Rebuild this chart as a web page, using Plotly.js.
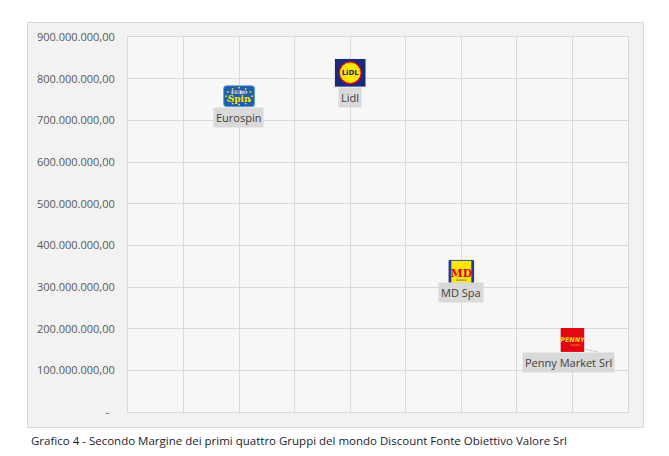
<!DOCTYPE html>
<html>
<head>
<meta charset="utf-8">
<script src="https://cdn.plot.ly/plotly-3.0.1.min.js"></script>
<style>html,body{margin:0;padding:0;background:#fff;}#chart{width:669px;height:456px;}</style>
</head>
<body>
<div id="chart"></div>
<script>
// ---- data ----
const companies = ["Eurospin", "Lidl", "MD Spa", "Penny Market Srl"];
const xPositions = [2, 4, 6, 8];
const secondMargin = [758000000, 814000000, 334000000, 173000000];
const yTickValues = [0, 100000000, 200000000, 300000000, 400000000, 500000000, 600000000, 700000000, 800000000, 900000000];
const yTickLabels = ["-\u00a0\u00a0", "100.000.000,00", "200.000.000,00", "300.000.000,00", "400.000.000,00", "500.000.000,00", "600.000.000,00", "700.000.000,00", "800.000.000,00", "900.000.000,00"];
const caption = "Grafico 4 - Secondo Margine dei primi quattro Gruppi del mondo Discount Fonte Obiettivo Valore Srl";

// ---- logo artwork (inline SVG) ----
function uri(svg){ return "data:image/svg+xml;charset=utf-8," + encodeURIComponent(svg); }
let stars = "";
for (let i = 0; i < 12; i++) {
  const a = i / 12 * Math.PI * 2;
  stars += `<circle cx="${16 + 13 * Math.cos(a)}" cy="${11 + 8.5 * Math.sin(a)}" r="0.9" fill="#ffe100"/>`;
}
const logos = {
  "Eurospin": uri(`<svg xmlns="http://www.w3.org/2000/svg" width="32" height="22" viewBox="0 0 32 22"><rect x="0.5" y="0.5" width="31" height="21" rx="3" fill="#1c5fae" stroke="#5aa0e0"/>${stars}<text x="16" y="8.5" font-family="DejaVu Serif" font-size="4.8" font-weight="bold" fill="#ffffff" text-anchor="middle">EURO</text><text x="16" y="17" font-family="DejaVu Serif" font-size="9" font-weight="bold" fill="#ffe100" text-anchor="middle">Spin</text></svg>`),
  "Lidl": uri(`<svg xmlns="http://www.w3.org/2000/svg" width="31" height="28" viewBox="0 0 31 28"><rect width="31" height="28" fill="#1b2b7c"/><circle cx="15.5" cy="14" r="11.5" fill="#e2001a"/><circle cx="15.5" cy="14" r="10.3" fill="#ffe500"/><text x="15.5" y="16.6" font-family="DejaVu Sans" font-size="7" font-weight="bold" fill="#1b2b7c" text-anchor="middle">LiDL</text></svg>`),
  "MD Spa": uri(`<svg xmlns="http://www.w3.org/2000/svg" width="26" height="26" viewBox="0 0 26 26"><rect width="26" height="26" rx="2" fill="#1d3f9a"/><rect x="3" y="1" width="20" height="24" fill="#ffe600"/><text x="13" y="17" font-family="DejaVu Serif" font-size="11" font-weight="bold" fill="#e2001a" text-anchor="middle">MD</text><rect x="8" y="19.5" width="10" height="1.6" fill="#999"/></svg>`),
  "Penny Market Srl": uri(`<svg xmlns="http://www.w3.org/2000/svg" width="24" height="24" viewBox="0 0 24 24"><rect width="24" height="24" fill="#e30613"/><text x="12" y="14" font-family="DejaVu Sans" font-size="6.4" font-weight="bold" font-style="italic" fill="#ffd500" text-anchor="middle">PENNY</text><text x="15" y="18" font-family="DejaVu Sans" font-size="2.6" font-style="italic" fill="#ffd500" text-anchor="middle">market</text></svg>`)
};

// ---- layout constants (pixels) ----
const W = 669, H = 456;
const M = {l: 128, r: 41, t: 37, b: 44};
const plotW = W - M.l - M.r, plotH = H - M.t - M.b;
const xRange = [0, 9], yRange = [0, 900000000];
const pxX = plotW / (xRange[1] - xRange[0]);
const pxY = plotH / (yRange[1] - yRange[0]);
const logoPx = {"Eurospin": [32, 22], "Lidl": [31, 28], "MD Spa": [26, 26], "Penny Market Srl": [24, 24]};
const labelShift = {"Eurospin": 11, "Lidl": 14, "MD Spa": 9, "Penny Market Srl": 12};

const images = companies.map((c, i) => ({
  source: logos[c], xref: "x", yref: "y",
  x: xPositions[i], y: secondMargin[i],
  sizex: logoPx[c][0] / pxX, sizey: logoPx[c][1] / pxY,
  xanchor: "center", yanchor: "middle", sizing: "stretch", layer: "above"
}));

const labelAnnotations = companies.map((c, i) => ({
  xref: "x", yref: "y", x: xPositions[i], y: secondMargin[i],
  text: c, showarrow: false, yanchor: "top", xanchor: "center",
  yshift: -labelShift[c], xshift: c === "Penny Market Srl" ? -4 : (c === "Eurospin" ? -1 : 0),
  bgcolor: "#d9d9d9", borderpad: 2,
  font: {family: "Open Sans, sans-serif", size: 11, color: "#404040"}
}));

const fx = px => (px - M.l) / plotW;
const fy = py => (H - M.b - py) / plotH;

const layout = {
  width: W, height: H,
  margin: M,
  paper_bgcolor: "#ffffff",
  plot_bgcolor: "rgba(0,0,0,0)",
  showlegend: false,
  xaxis: {range: xRange, dtick: 1, tick0: 0, showticklabels: false, ticks: "",
          showgrid: true, gridcolor: "#d9d9d9", gridwidth: 1, zeroline: false,
          showline: true, linecolor: "#d9d9d9", mirror: true, fixedrange: true},
  yaxis: {range: yRange, tickvals: yTickValues, ticktext: yTickLabels, ticks: "",
          ticklabelstandoff: 10,
          showgrid: true, gridcolor: "#d9d9d9", gridwidth: 1, zeroline: false,
          showline: true, linecolor: "#d9d9d9", mirror: true, fixedrange: true,
          tickfont: {family: "Open Sans, sans-serif", size: 11, color: "#595959"}},
  shapes: [
    {type: "rect", xref: "paper", yref: "paper", x0: fx(27.5), x1: fx(643.5), y0: fy(427.5), y1: fy(22.5),
     fillcolor: "#f2f2f2", line: {color: "#d9d9d9", width: 1}, layer: "below"},
    {type: "rect", xref: "paper", yref: "paper", x0: 0, x1: 1, y0: 0, y1: 1,
     fillcolor: "#f7f7f7", line: {width: 0}, layer: "below"},
    {type: "line", xref: "paper", yref: "paper", x0: fx(584), y0: fy(349), x1: fx(598), y1: fy(352),
     line: {color: "#d0d0d0", width: 1}, layer: "above"}
  ],
  images: images,
  annotations: labelAnnotations.concat([{
    xref: "paper", yref: "paper", x: fx(29), y: fy(441), xanchor: "left", yanchor: "middle",
    text: caption, showarrow: false,
    font: {family: "Open Sans, sans-serif", size: 11.5, color: "#1b1b30"}
  }])
};

const trace = {
  type: "scatter", mode: "markers",
  x: xPositions, y: secondMargin, text: companies,
  marker: {size: 2, color: "rgba(0,0,0,0)"},
  hoverinfo: "text"
};

Plotly.newPlot("chart", [trace], layout, {displayModeBar: false, staticPlot: true});
</script>
</body>
</html>
